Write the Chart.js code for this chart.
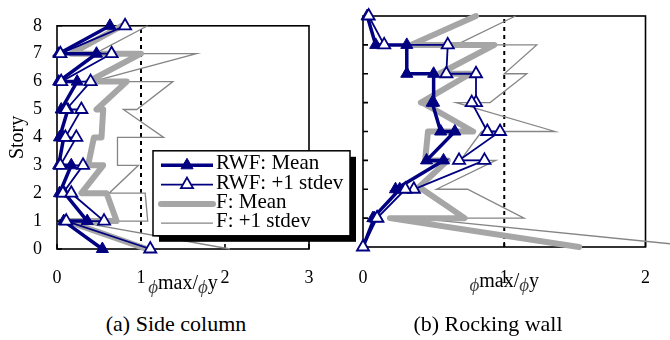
<!DOCTYPE html>
<html>
<head>
<meta charset="utf-8">
<script src="https://cdn.jsdelivr.net/npm/chart.js@4.4.0/dist/chart.umd.min.js"></script>
<style>
  body { margin: 0; background: #fff; }
  #wrap { position: relative; width: 670px; height: 340px; overflow: hidden; background: #fff; }
  canvas { position: absolute; top: 0; }
  #sideChart { left: 0; }
  #wallChart { left: 335px; }
  .caption {
    position: absolute; top: 311px; line-height: 22px;
    font: 22px "Liberation Serif", "Times New Roman", serif; color: #000;
    transform: translateX(-50%); white-space: nowrap;
  }
</style>
</head>
<body>
<div id="wrap">
  <canvas id="sideChart" width="362" height="300"></canvas>
  <canvas id="wallChart" width="335" height="300"></canvas>
  <div class="caption" style="left:176px">(a) Side column</div>
  <div class="caption" style="left:488px">(b) Rocking wall</div>
</div>
<script>
// Story of every plotted point: floors 1-7 appear twice (end of the segment above, start of the one below)
const storyLevels = [8, 7, 7, 6, 6, 5, 5, 4, 4, 3, 3, 2, 2, 1, 1, 0];
const storyTicks = [0, 1, 2, 3, 4, 5, 6, 7, 8];
const seriesLabels = ['RWF: Mean', 'RWF: +1 stdev', 'F: Mean', 'F: +1 stdev'];
const yieldRatio = 1;

// (a) Side column
const sideXTicks = [0, 1, 2, 3];
const sideRwfMean  = [0.63, 0.02, 0.47, 0.02, 0.24, 0.05, 0.13, 0.03, 0.08, 0.02, 0.17, 0.03, 0.09, 0.36, 0.08, 0.54];
const sideRwfStdev = [0.81, 0.04, 0.65, 0.05, 0.40, 0.11, 0.29, 0.10, 0.23, 0.04, 0.31, 0.07, 0.17, 0.56, 0.11, 1.11];
const sideFMean    = [0.77, 0.17, 1.00, 0.37, 0.83, 0.47, 0.55, 0.53, 0.44, 0.37, 0.55, 0.29, 0.59, 0.71, 0.12, 1.07];
const sideFStdev   = [1.08, 0.45, 1.66, 0.42, 1.38, 0.95, 0.79, 1.27, 0.72, 0.72, 0.97, 0.62, 1.05, 1.08, 0.20, 2.06];

// (b) Rocking wall
const wallXTicks = [0, 1, 2];
const wallRwfMean  = [0.03, 0.09, 0.31, 0.31, 0.50, 0.50, 0.49, 0.55, 0.65, 0.45, 0.57, 0.23, 0.26, 0.07, 0.08, 0.00];
const wallRwfStdev = [0.04, 0.15, 0.60, 0.59, 0.80, 0.80, 0.77, 0.88, 0.97, 0.68, 0.86, 0.36, 0.30, 0.10, 0.10, 0.00];
const wallFMean    = [0.80, 0.34, 0.93, 0.54, 0.76, 0.41, 0.42, 0.78, 0.46, 0.44, 0.60, 0.38, 0.42, 0.72, 0.19, 1.53];
const wallFStdev   = [1.08, 0.66, 1.23, 1.00, 1.16, 0.90, 0.66, 1.36, 0.84, 0.69, 0.94, 0.52, 0.74, 1.14, 0.37, 2.40];

const NAVY = '#000080';
const GRAY_THICK = '#a6a6a6';
const GRAY_THIN = '#858585';
const SERIF = '"Liberation Serif", "Times New Roman", serif';

Chart.defaults.font.family = SERIF;
Chart.defaults.color = '#000';

function toPoints(values) {
  return values.map((x, i) => ({ x, y: storyLevels[i] }));
}

function makeDatasets(rwfMean, rwfStdev, fMean, fStdev) {
  const base = { showLine: true, clip: false, tension: 0 };
  return [
    { ...base, label: seriesLabels[0], data: toPoints(rwfMean), order: 1,
      borderColor: NAVY, borderWidth: 3.5,
      pointStyle: 'triangle', pointRadius: 7, pointBackgroundColor: NAVY,
      pointBorderColor: NAVY, pointBorderWidth: 1 },
    { ...base, label: seriesLabels[1], data: toPoints(rwfStdev), order: 0,
      borderColor: NAVY, borderWidth: 1.8,
      pointStyle: 'triangle', pointRadius: 7, pointBackgroundColor: '#fff',
      pointBorderColor: NAVY, pointBorderWidth: 1.8 },
    { ...base, label: seriesLabels[2], data: toPoints(fMean), order: 2,
      borderColor: GRAY_THICK, borderWidth: 6, borderCapStyle: 'round',
      borderJoinStyle: 'round', pointRadius: 0 },
    { ...base, label: seriesLabels[3], data: toPoints(fStdev), order: 3,
      borderColor: GRAY_THIN, borderWidth: 1.3, pointRadius: 0 },
    // yield curvature reference line
    { ...base, label: '', data: [{ x: yieldRatio, y: 0 }, { x: yieldRatio, y: 8 }], order: 4,
      borderColor: '#000', borderWidth: 2, borderDash: [4, 4], pointRadius: 0 }
  ];
}

function triangle(ctx, x, y, r) {
  ctx.beginPath();
  ctx.moveTo(x, y - r);
  ctx.lineTo(x + 0.866 * r, y + 0.5 * r);
  ctx.lineTo(x - 0.866 * r, y + 0.5 * r);
  ctx.closePath();
}

// box around the plot with short inward ticks
const plotFrame = {
  id: 'plotFrame',
  beforeDatasetsDraw(chart) {
    const { ctx, chartArea: a, scales } = chart;
    ctx.save();
    ctx.strokeStyle = '#000';
    ctx.lineWidth = 1.6;
    ctx.strokeRect(a.left, a.top, a.right - a.left, a.bottom - a.top);
    ctx.beginPath();
    scales.y.ticks.forEach(t => {
      const py = scales.y.getPixelForValue(t.value);
      ctx.moveTo(a.left, py);
      ctx.lineTo(a.left + 5, py);
    });
    scales.x.ticks.forEach(t => {
      const px = scales.x.getPixelForValue(t.value);
      ctx.moveTo(px, a.bottom);
      ctx.lineTo(px, a.bottom - 5);
    });
    ctx.stroke();
    ctx.restore();
  }
};

// legend in a box with a hard drop shadow
const boxLegend = {
  id: 'boxLegend',
  afterDatasetsDraw(chart, args, opts) {
    if (!opts.show) return;
    const { ctx, chartArea } = chart;
    const x = chartArea.left + opts.offsetX;
    const y = chartArea.top + opts.offsetY;
    const w = opts.width, h = opts.height;
    ctx.save();
    ctx.fillStyle = '#000';
    ctx.fillRect(x + 6, y + 6, w, h);
    ctx.fillStyle = '#fff';
    ctx.fillRect(x, y, w, h);
    ctx.strokeStyle = '#000';
    ctx.lineWidth = 1.5;
    ctx.strokeRect(x, y, w, h);

    const items = chart.data.datasets.filter(d => d.label);
    items.forEach((ds, i) => {
      const cy = y + 13 + i * 19.3;
      const ly = cy + 1.5;
      ctx.beginPath();
      ctx.strokeStyle = ds.borderColor;
      ctx.lineWidth = ds.borderWidth;
      ctx.lineCap = ds.borderCapStyle || 'butt';
      ctx.moveTo(x + 8, ly);
      ctx.lineTo(x + 60, ly);
      ctx.stroke();
      if (ds.pointRadius > 0) {
        ctx.lineCap = 'butt';
        triangle(ctx, x + 34, ly, ds.pointRadius);
        ctx.fillStyle = ds.pointBackgroundColor;
        ctx.fill();
        ctx.lineWidth = ds.pointBorderWidth;
        ctx.strokeStyle = ds.pointBorderColor;
        ctx.stroke();
      }
      ctx.fillStyle = '#000';
      ctx.font = '21px ' + SERIF;
      ctx.textAlign = 'left';
      ctx.textBaseline = 'middle';
      ctx.fillText(ds.label, x + 63, cy);
    });
    ctx.restore();
  }
};

// x-axis title: curvature ratio with lowered phi symbols
const ratioTitle = {
  id: 'ratioTitle',
  afterDraw(chart) {
    const { ctx, chartArea: a } = chart;
    const phi = { font: 'italic 19px ' + SERIF, dy: 4, color: '#444' };
    const parts = [
      { text: '\u03D5', ...phi },
      { text: 'max/', font: '20px ' + SERIF, dy: 0, color: '#000' },
      { text: '\u03D5', ...phi },
      { text: 'y', font: '20px ' + SERIF, dy: 0, color: '#000' }
    ];
    ctx.save();
    ctx.textBaseline = 'alphabetic';
    ctx.textAlign = 'left';
    let total = 0;
    parts.forEach(p => { ctx.font = p.font; p.w = ctx.measureText(p.text).width; total += p.w; });
    let px = (a.left + a.right) / 2 - total / 2;
    const base = a.bottom + 40;
    parts.forEach(p => {
      ctx.font = p.font;
      ctx.fillStyle = p.color;
      ctx.fillText(p.text, px, base + p.dy);
      px += p.w;
    });
    ctx.restore();
  }
};

function makeChart(canvasId, cfg) {
  return new Chart(document.getElementById(canvasId), {
    type: 'scatter',
    data: { datasets: makeDatasets(...cfg.series) },
    options: {
      responsive: false,
      animation: false,
      events: [],
      layout: { padding: cfg.padding },
      plugins: {
        legend: { display: false },
        tooltip: { enabled: false },
        boxLegend: { show: cfg.showLegend, offsetX: 96, offsetY: 125, width: 197, height: 85 }
      },
      scales: {
        x: {
          type: 'linear',
          min: 0,
          max: cfg.xTicks[cfg.xTicks.length - 1],
          afterBuildTicks: s => { s.ticks = cfg.xTicks.map(v => ({ value: v })); },
          afterFit: s => { s.height = cfg.xAxisHeight; },
          grid: { display: false, drawTicks: false },
          border: { display: false },
          ticks: { padding: cfg.xTickPad, font: { size: 18 }, color: '#000' }
        },
        y: {
          type: 'linear',
          min: 0,
          max: 8,
          afterBuildTicks: s => { s.ticks = storyTicks.map(v => ({ value: v })); },
          afterFit: s => { s.width = cfg.yAxisWidth; },
          grid: { display: false, drawTicks: false },
          border: { display: false },
          ticks: { display: cfg.storyLabels, padding: 15, font: { size: 18 }, color: '#000' },
          title: {
            display: cfg.storyLabels, text: 'Story', color: '#000',
            font: { size: 20 }, padding: { top: 6, bottom: 0 }
          }
        }
      }
    },
    plugins: [plotFrame, boxLegend, ratioTitle]
  });
}

makeChart('sideChart', {
  series: [sideRwfMean, sideRwfStdev, sideFMean, sideFStdev],
  xTicks: sideXTicks,
  padding: { top: 16, right: 53, bottom: 0, left: 0 },
  xAxisHeight: 51,
  xTickPad: 18,
  yAxisWidth: 57,
  storyLabels: true,
  showLegend: true
});

makeChart('wallChart', {
  series: [wallRwfMean, wallRwfStdev, wallFMean, wallFStdev],
  xTicks: wallXTicks,
  padding: { top: 16, right: 17, bottom: 0, left: 0 },
  xAxisHeight: 53,
  xTickPad: 20,
  yAxisWidth: 28,
  storyLabels: false,
  showLegend: false
});
</script>
</body>
</html>
